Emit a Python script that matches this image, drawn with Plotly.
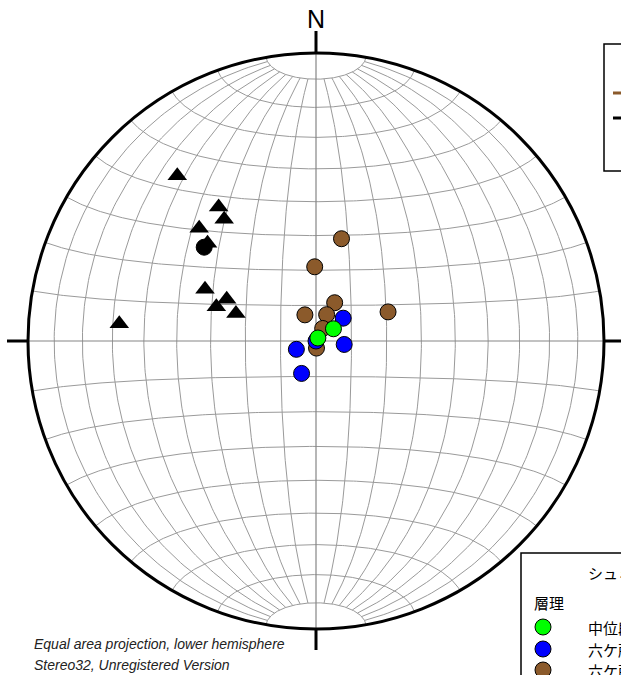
import numpy as np
import plotly.graph_objects as go

# ---- data: poles, trend / plunge in degrees ----
green_trend = [55, 32]
green_plunge = [84, 89]
blue_trend = [50, 247, 97, 204, 0]
blue_plunge = [80, 84, 82, 80, 90]
brown_trend = [14, 359, 26, 337, 22, 68, 28, 176]
brown_plunge = [60, 69, 78, 82, 82, 68, 86, 88]
tri_trend = [320, 324, 323, 314, 312, 295, 295, 289, 289, 275]
tri_plunge = [26, 42, 46, 43, 48, 55, 62, 60, 66, 32]
dot_trend = [310]
dot_plunge = [48]

legend_title = "シュミットネット 下半球投影"
group_title = "層理"
legend_labels = ["中位段丘堆積物", "六ケ所層 (上部)", "六ケ所層 (下部)"]
legend_colors = ["#00ff00", "#0000ff", "#8b5a2b"]

# ---- geometry (pixels) ----
W, H = 621, 675
CX, CY, R = 316, 341, 288


def xd(px):
    return (px - CX) / R


def yd(py):
    return (CY - py) / R


def proj(trend, plunge):
    t = np.radians(np.asarray(trend, float))
    p = np.radians(np.asarray(plunge, float))
    x = np.cos(p) * np.sin(t)
    y = np.cos(p) * np.cos(t)
    z = np.sin(p)
    k = 1.0 / np.sqrt(1.0 + z)
    return x * k, y * k


def net_pt(phi, lam):
    phi = np.radians(phi)
    lam = np.radians(lam)
    x = np.cos(phi) * np.sin(lam)
    y = np.sin(phi)
    z = np.cos(phi) * np.cos(lam)
    k = 1.0 / np.sqrt(1.0 + z)
    return x * k, y * k


gx, gy = [], []
# meridians (great circles)
for lam in range(-80, 90, 10):
    if lam == 0:
        continue
    phi = np.linspace(-80, 80, 161)
    X, Y = net_pt(phi, np.full_like(phi, lam))
    gx += list(X) + [None]
    gy += list(Y) + [None]
# small circles
for phi in range(-80, 90, 10):
    if phi == 0:
        continue
    lam = np.linspace(-90, 90, 181)
    X, Y = net_pt(np.full_like(lam, phi), lam)
    gx += list(X) + [None]
    gy += list(Y) + [None]

fig = go.Figure()
fig.add_trace(go.Scatter(x=gx, y=gy, mode="lines",
                         line=dict(color="#9a9a9a", width=1),
                         hoverinfo="skip", showlegend=False))
# N-S and E-W axes
fig.add_trace(go.Scatter(x=[0, 0, None, -1, 1], y=[-1, 1, None, 0, 0], mode="lines",
                         line=dict(color="#858585", width=1.2),
                         hoverinfo="skip", showlegend=False))

# ---- data traces ----
x, y = proj(tri_trend, tri_plunge)
fig.add_trace(go.Scatter(x=x, y=y, mode="markers", showlegend=False,
                         marker=dict(symbol="triangle-up", size=17, color="black",
                                     line=dict(width=0))))
x, y = proj(dot_trend, dot_plunge)
fig.add_trace(go.Scatter(x=x, y=y, mode="markers", showlegend=False,
                         marker=dict(symbol="circle", size=16, color="black",
                                     line=dict(width=1, color="black"))))
for tr, pl, col in [(brown_trend, brown_plunge, legend_colors[2]),
                    (blue_trend, blue_plunge, legend_colors[1]),
                    (green_trend, green_plunge, legend_colors[0])]:
    x, y = proj(tr, pl)
    fig.add_trace(go.Scatter(x=x, y=y, mode="markers", showlegend=False,
                             marker=dict(symbol="circle", size=16, color=col,
                                         line=dict(width=1, color="black"))))

shapes = [
    dict(type="circle", xref="x", yref="y", x0=-1, y0=-1, x1=1, y1=1,
         line=dict(color="black", width=3), layer="above"),
    dict(type="line", xref="x", yref="y", x0=0, y0=1, x1=0, y1=yd(31),
         line=dict(color="black", width=3)),
    dict(type="line", xref="x", yref="y", x0=0, y0=-1, x1=0, y1=yd(650),
         line=dict(color="black", width=3)),
    dict(type="line", xref="x", yref="y", x0=-1, y0=0, x1=xd(7), y1=0,
         line=dict(color="black", width=3)),
    dict(type="line", xref="x", yref="y", x0=1, y0=0, x1=xd(640), y1=0,
         line=dict(color="black", width=3)),
    # legend boxes
    dict(type="rect", xref="x", yref="y", x0=xd(604), y0=yd(44), x1=xd(720), y1=yd(171),
         line=dict(color="black", width=1.5), fillcolor="white"),
    dict(type="rect", xref="x", yref="y", x0=xd(521), y0=yd(553), x1=xd(720), y1=yd(800),
         line=dict(color="black", width=1.5), fillcolor="white"),
    dict(type="line", xref="x", yref="y", x0=xd(613), y0=yd(93), x1=xd(640), y1=yd(93),
         line=dict(color="#8b5a2b", width=3)),
    dict(type="line", xref="x", yref="y", x0=xd(613), y0=yd(118), x1=xd(640), y1=yd(118),
         line=dict(color="black", width=3)),
]
leg_y = [627, 649, 670]
for py, col in zip(leg_y, legend_colors):
    shapes.append(dict(type="circle", xref="x", yref="y", xsizemode="pixel", ysizemode="pixel",
                       xanchor=xd(543), yanchor=yd(py), x0=-8, x1=8, y0=-8, y1=8,
                       fillcolor=col, line=dict(color="black", width=1)))

annotations = [
    dict(text="N", x=0, y=yd(19), xref="x", yref="y", showarrow=False,
         font=dict(family="Liberation Sans, Arial", size=25, color="black")),
    dict(text="<i>Equal area projection, lower hemisphere</i>", x=32 / W, y=1 - 644 / H,
         xref="paper", yref="paper", xanchor="left", yanchor="middle", showarrow=False,
         font=dict(family="Liberation Sans, Arial", size=14, color="#222222")),
    dict(text="<i>Stereo32, Unregistered Version</i>", x=32 / W, y=1 - 665 / H,
         xref="paper", yref="paper", xanchor="left", yanchor="middle", showarrow=False,
         font=dict(family="Liberation Sans, Arial", size=14, color="#222222")),
    dict(text=legend_title, x=586 / W, y=1 - 572 / H, xref="paper", yref="paper",
         xanchor="left", yanchor="middle", showarrow=False,
         font=dict(family="Noto Sans CJK JP", size=15, color="black")),
    dict(text=group_title, x=532 / W, y=1 - 602 / H, xref="paper", yref="paper",
         xanchor="left", yanchor="middle", showarrow=False,
         font=dict(family="Noto Sans CJK JP", size=15, color="black")),
]
for py, lab in zip(leg_y, legend_labels):
    annotations.append(dict(text=lab, x=586 / W, y=1 - py / H, xref="paper", yref="paper",
                            xanchor="left", yanchor="middle", showarrow=False,
                            font=dict(family="Noto Sans CJK JP", size=15, color="black")))

fig.update_layout(
    width=W, height=H,
    margin=dict(l=0, r=0, t=0, b=0),
    paper_bgcolor="white", plot_bgcolor="white",
    xaxis=dict(range=[xd(0), xd(W)], visible=False, fixedrange=True),
    yaxis=dict(range=[yd(H), yd(0)], visible=False, fixedrange=True),
    shapes=shapes, annotations=annotations,
    showlegend=False,
)
fig.write_html("out.html", config={"displayModeBar": False},
               post_script="document.body.style.margin='0px';document.body.style.overflow='hidden';")
